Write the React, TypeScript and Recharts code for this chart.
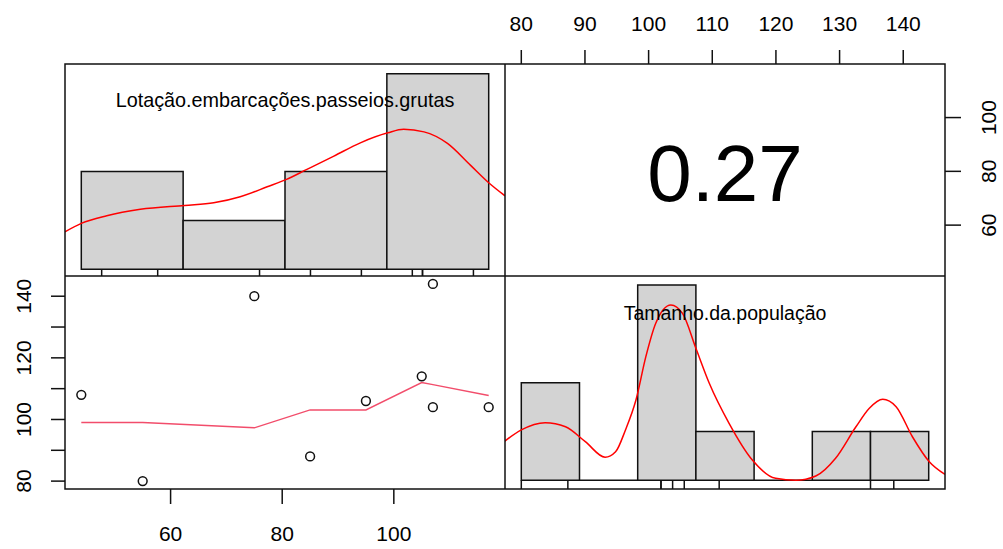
import {
  ComposedChart,
  XAxis,
  YAxis,
  Line,
  Scatter,
  ReferenceArea,
  ReferenceLine,
  ReferenceDot,
} from 'recharts'

const FONT = '"Liberation Sans", Arial, Helvetica, sans-serif'
const INK = '#111111'

// one entry per observation
const lotacao = [44, 55, 75, 85, 95, 105, 107, 107, 117]
const tamanho = [108, 80, 140, 88, 106, 114, 104, 144, 104]
const correlation = '0.27'
const names = ['Lotação.embarcações.passeios.grutas', 'Tamanho.da.população']

// histograms (pretty breaks, counts)
const lotacaoBreaks = [40, 60, 80, 100, 120]
const lotacaoCounts = [2, 1, 2, 4]
const tamanhoBreaks = [80, 90, 100, 110, 120, 130, 140, 150]
const tamanhoCounts = [2, 0, 4, 1, 0, 1, 1]

// density curves, scaled like the bars
const lotacaoDensity: [number, number][] = [
  [36.8, 0.192], [40.0, 0.235], [45.0, 0.274], [51.6, 0.307], [60.3, 0.327],
  [66.0, 0.34], [71.2, 0.371], [76.5, 0.422], [80.3, 0.46], [84.3, 0.511],
  [89.6, 0.579], [94.8, 0.647], [100.2, 0.698], [103.3, 0.716], [107.3, 0.703],
  [111.9, 0.644], [116.4, 0.533], [120.0, 0.443], [123.2, 0.376],
]
const tamanhoDensity: [number, number][] = [
  [76.85, 0.193], [80.0, 0.258], [84.1, 0.295], [87.6, 0.274], [91.0, 0.198],
  [94.4, 0.118], [96.2, 0.146], [97.9, 0.258], [99.7, 0.411], [101.4, 0.633],
  [103.1, 0.804], [105.7, 0.898], [107.7, 0.855], [110.0, 0.676], [112.3, 0.497],
  [115.7, 0.292], [119.7, 0.104], [123.7, 0.01], [127.2, 0.0], [130.6, 0.022],
  [134.0, 0.113], [137.5, 0.274], [139.8, 0.369], [142.1, 0.415], [144.4, 0.377],
  [147.2, 0.223], [150.1, 0.095], [152.8, 0.03],
]

// smoother in the scatter panel
const smoothLine: [number, number][] = [
  [44, 99.0], [55, 99.0], [75, 97.3], [85, 103.1], [95, 103.1],
  [105, 112.0], [107, 111.3], [117, 107.8],
]

const topTicks = [80, 90, 100, 110, 120, 130, 140]
const rightTicks = [60, 80, 100]
const bottomTicks = [60, 80, 100]
const leftTicks = [80, 90, 100, 110, 120, 130, 140]

// panel grid
const X0 = 65
const X1 = 505
const X2 = 945
const Y0 = 64
const Y1 = 276
const Y2 = 489

const pad = (lo: number, hi: number): [number, number] => {
  const d = (hi - lo) * 0.04
  return [lo - d, hi + d]
}
const lotDomain = pad(Math.min(...lotacao), Math.max(...lotacao))
const tamDomain = pad(Math.min(...tamanho), Math.max(...tamanho))

const noMargin = { top: 0, right: 0, bottom: 0, left: 0 }
const tickLineStyle = { stroke: INK, strokeWidth: 1.5 }

function HTick(props: any) {
  const { x, y, payload } = props
  return (
    <text x={x} y={y} dy="0.36em" textAnchor="middle" fontSize={21} fontFamily={FONT} fill="#000">
      {payload.value}
    </text>
  )
}

function VTick(props: any) {
  const { x, y, payload } = props
  const label = payload.value % 20 === 0 ? String(payload.value) : ''
  return (
    <text
      x={x}
      y={y}
      dy="0.36em"
      textAnchor="middle"
      transform={`rotate(-90 ${x} ${y})`}
      fontSize={21}
      fontFamily={FONT}
      fill="#000"
    >
      {label}
    </text>
  )
}

function OpenCircle(props: any) {
  return <circle cx={props.cx} cy={props.cy} r={4.4} fill="none" stroke={INK} strokeWidth={1.5} />
}

interface HistProps {
  left: number
  top: number
  width: number
  height: number
  breaks: number[]
  counts: number[]
  density: [number, number][]
  rug: number[]
  yDomain: [number, number]
}

function HistPanel({ left, top, width, height, breaks, counts, density, rug, yDomain }: HistProps) {
  const maxCount = Math.max(...counts)
  const xDomain = pad(breaks[0], breaks[breaks.length - 1])
  const curve = density.map(([x, y]) => ({ x, y }))
  return (
    <div style={{ position: 'absolute', left, top }}>
      <ComposedChart width={width} height={height} data={curve} margin={noMargin}>
        <XAxis type="number" dataKey="x" domain={xDomain} allowDataOverflow hide />
        <YAxis type="number" domain={yDomain} allowDataOverflow hide />
        {counts.map((c, i) =>
          c > 0 ? (
            <ReferenceArea
              key={i}
              x1={breaks[i]}
              x2={breaks[i + 1]}
              y1={0}
              y2={c / maxCount}
              fill="#d3d3d3"
              fillOpacity={1}
              stroke={INK}
              strokeWidth={1.5}
              ifOverflow="visible"
            />
          ) : (
            <ReferenceLine
              key={i}
              segment={[{ x: breaks[i], y: 0 }, { x: breaks[i + 1], y: 0 }]}
              stroke={INK}
              strokeWidth={1.5}
              ifOverflow="visible"
            />
          )
        )}
        <Line
          dataKey="y"
          type="monotone"
          stroke="#ff0000"
          strokeWidth={1.5}
          dot={false}
          activeDot={false}
          isAnimationActive={false}
        />
        {rug.map((v, i) => (
          <ReferenceLine
            key={'r' + i}
            segment={[{ x: v, y: yDomain[0] }, { x: v, y: 0 }]}
            stroke={INK}
            strokeWidth={1.5}
            ifOverflow="visible"
          />
        ))}
      </ComposedChart>
    </div>
  )
}

export default function App() {
  const points = lotacao.map((x, i) => ({ x, y: tamanho[i] }))
  // the upper panel is the same pair, with axes swapped
  const upperPairs = tamanho.map((x, i) => ({ x, y: lotacao[i] }))
  const smooth = smoothLine.map(([x, y]) => ({ x, y }))
  const midX = (tamDomain[0] + tamDomain[1]) / 2
  const midY = (lotDomain[0] + lotDomain[1]) / 2

  return (
    <div style={{ position: 'absolute', left: 0, top: 0, width: 1003, height: 549, background: '#fff' }}>
      {/* diagonal: Lotação */}
      <HistPanel
        left={X0}
        top={Y0}
        width={X1 - X0}
        height={Y1 - Y0}
        breaks={lotacaoBreaks}
        counts={lotacaoCounts}
        density={lotacaoDensity}
        rug={lotacao}
        yDomain={[-0.034, 1.05]}
      />

      {/* upper: correlation, with top + right axes */}
      <div style={{ position: 'absolute', left: X1, top: 0 }}>
        <ComposedChart width={X2 - X1 + 58} height={Y1} data={upperPairs} margin={noMargin}>
          <XAxis
            type="number"
            dataKey="x"
            orientation="top"
            domain={tamDomain}
            ticks={topTicks}
            interval={0}
            allowDataOverflow
            height={Y0}
            tickSize={14}
            tickMargin={27}
            axisLine={false}
            tickLine={tickLineStyle}
            tick={HTick}
          />
          <YAxis
            type="number"
            dataKey="y"
            orientation="right"
            domain={lotDomain}
            ticks={rightTicks}
            interval={0}
            allowDataOverflow
            width={58}
            tickSize={16}
            tickMargin={27}
            axisLine={false}
            tickLine={tickLineStyle}
            tick={VTick}
          />
          <ReferenceDot
            x={midX}
            y={midY}
            r={1}
            fill="none"
            stroke="none"
            ifOverflow="visible"
            label={(p: any) => {
              const vb = p.viewBox
              const cx = vb.x + vb.width / 2
              const cy = vb.y + vb.height / 2
              return (
                <text x={cx} y={cy} dy={31} textAnchor="middle" fontSize={80} fontFamily={FONT} fill="#000">
                  {correlation}
                </text>
              )
            }}
          />
        </ComposedChart>
      </div>

      {/* lower: scatter with smoother, bottom + left axes */}
      <div style={{ position: 'absolute', left: 0, top: Y1 }}>
        <ComposedChart width={X1} height={549 - Y1} margin={noMargin}>
          <XAxis
            type="number"
            dataKey="x"
            domain={lotDomain}
            ticks={bottomTicks}
            interval={0}
            allowDataOverflow
            height={549 - Y2}
            tickSize={15}
            tickMargin={29}
            axisLine={false}
            tickLine={tickLineStyle}
            tick={HTick}
          />
          <YAxis
            type="number"
            dataKey="y"
            domain={tamDomain}
            ticks={leftTicks}
            interval={0}
            allowDataOverflow
            width={X0}
            tickSize={14}
            tickMargin={28}
            axisLine={false}
            tickLine={tickLineStyle}
            tick={VTick}
          />
          <Scatter data={points} shape={OpenCircle} isAnimationActive={false} />
          <Line
            data={smooth}
            dataKey="y"
            type="linear"
            stroke="#f24d6b"
            strokeWidth={1.4}
            dot={false}
            activeDot={false}
            isAnimationActive={false}
          />
        </ComposedChart>
      </div>

      {/* diagonal: Tamanho */}
      <HistPanel
        left={X1}
        top={Y1}
        width={X2 - X1}
        height={Y2 - Y1}
        breaks={tamanhoBreaks}
        counts={tamanhoCounts}
        density={tamanhoDensity}
        rug={tamanho}
        yDomain={[-0.0445, 1.046]}
      />

      {/* panel frames and variable names */}
      <svg
        width={1003}
        height={549}
        style={{ position: 'absolute', left: 0, top: 0, pointerEvents: 'none' }}
      >
        <rect x={X0} y={Y0} width={X2 - X0} height={Y2 - Y0} fill="none" stroke={INK} strokeWidth={1.5} />
        <line x1={X1} y1={Y0} x2={X1} y2={Y2} stroke={INK} strokeWidth={1.5} />
        <line x1={X0} y1={Y1} x2={X2} y2={Y1} stroke={INK} strokeWidth={1.5} />
        <text x={(X0 + X1) / 2} y={107} textAnchor="middle" fontSize={19.8} fontFamily={FONT} fill="#000">
          {names[0]}
        </text>
        <text x={(X1 + X2) / 2} y={320} textAnchor="middle" fontSize={19.5} fontFamily={FONT} fill="#000">
          {names[1]}
        </text>
      </svg>
    </div>
  )
}
